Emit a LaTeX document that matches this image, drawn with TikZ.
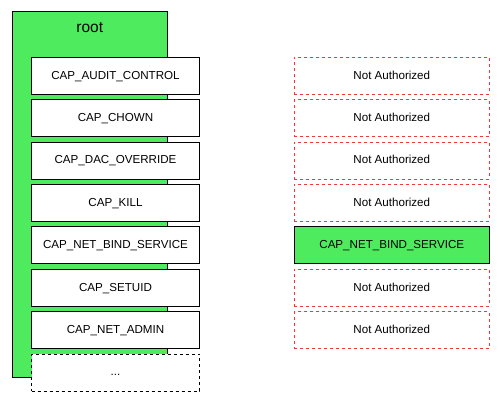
\documentclass[tikz,border=0pt]{standalone}
\usepackage{fontspec}
\setmainfont{Liberation Sans}
\usetikzlibrary{positioning}
\definecolor{rootgreen}{RGB}{78,235,94}
\definecolor{denyred}{RGB}{255,51,51}

\begin{document}
\begin{tikzpicture}[x=1pt, y=-1pt,
  capbox/.style={draw, fill=white, line width=1pt, minimum width=168pt,
    minimum height=37pt, inner sep=0pt, text height=8.4pt, text depth=1.6pt,
    font=\fontsize{11.6}{13}\selectfont},
  resbox/.style={capbox, minimum width=195pt},
  denied/.style={resbox, draw=denyred, dash pattern=on 3pt off 3pt},
  granted/.style={resbox, fill=rootgreen}]
  \useasboundingbox (0,0) rectangle (501,403);
  % Root container
  \node[draw, line width=1pt, fill=rootgreen, anchor=north west, inner sep=0pt,
    minimum width=155.5pt, minimum height=365.5pt] (root) at (11.5,11.5) {};
  \node[below=7pt of root.north, font=\fontsize{15.5}{17}\selectfont] (rootlabel) {root};
  % Capabilities of root
  \foreach \cap [count=\i] in {CAP\_AUDIT\_CONTROL, CAP\_CHOWN, CAP\_DAC\_OVERRIDE,
      CAP\_KILL, CAP\_NET\_BIND\_SERVICE, CAP\_SETUID, CAP\_NET\_ADMIN}
    \node[capbox] (cap\i) at (115.5, 33.4+42.4*\i) {\cap};
  \node[capbox, dashed] (cap8) at (115.5, 372.6) {...};
  % Capabilities of the process
  \node[denied]  (res1) at (391.8, 75.8)  {Not Authorized};
  \node[denied]  (res2) at (391.8, 118.2) {Not Authorized};
  \node[denied]  (res3) at (391.8, 160.6) {Not Authorized};
  \node[denied]  (res4) at (391.8, 203.0) {Not Authorized};
  \node[granted] (res5) at (391.8, 245.4) {CAP\_NET\_BIND\_SERVICE};
  \node[denied]  (res6) at (391.8, 287.8) {Not Authorized};
  \node[denied]  (res7) at (391.8, 330.2) {Not Authorized};
\end{tikzpicture}
\end{document}
